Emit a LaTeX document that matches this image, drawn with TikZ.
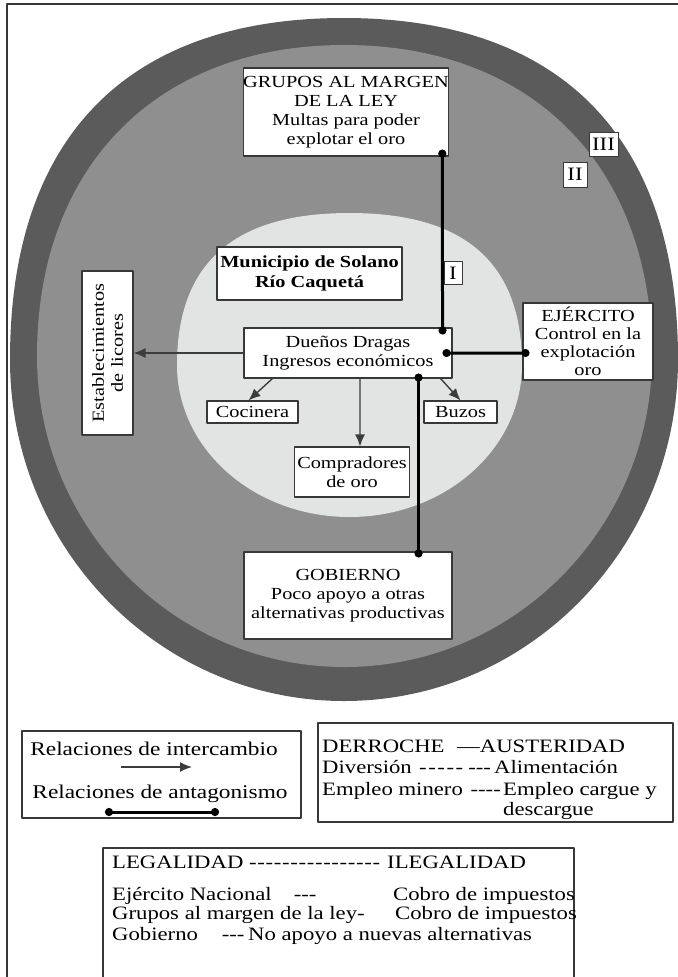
\documentclass[tikz,border=0pt]{standalone}
\usepackage{fontspec}
\setmainfont[FakeStretch=1.2]{Liberation Serif}
\usetikzlibrary{arrows.meta}
\definecolor{ringdark}{HTML}{5B5B5B}
\definecolor{ringmid}{HTML}{8F8F8F}
\definecolor{ringlight}{HTML}{E2E3E3}
\definecolor{boxline}{HTML}{383838}
\definecolor{arrowgray}{HTML}{3C3C3C}
% n hyphens spread over a given width
\newcommand\guiones[2]{\makebox[#2]{-\foreach \k in {2,...,#1}{\hfill-}}}
\begin{document}
\begin{tikzpicture}[x=1bp,y=-1bp,>={Latex[length=12bp,width=10bp]},line join=bevel,
  box/.style={draw=boxline,fill=white,line width=1.1bp,inner sep=0pt,align=center,
    font=\fontsize{17}{19}\selectfont},
  numbox/.style={draw=boxline,fill=white,line width=1bp,inner sep=0pt,
    font=\fontsize{19}{19}\selectfont},
  swap/.style={->,draw=arrowgray,line width=1.4bp},
  antag/.style={{Circle[length=8bp]}-{Circle[length=8bp]},line width=3bp,black},
  legtext/.style={anchor=base west,inner sep=0pt,font=\fontsize{19}{21}\selectfont},
  legbox/.style={draw=boxline,line width=1.1bp}]
\useasboundingbox (0,0) rectangle (678,977);
%%
\draw[boxline,line width=1.5bp] (7,977) -- (7,4) -- (678,4);
% Ring III
\fill[ringdark] (10,359.5) .. controls (10,137.5) and (126.9,18) .. (344,18)
  .. controls (561.1,18) and (678,137.5) .. (678,359.5)
  .. controls (678,548.1) and (528.5,701) .. (344,701)
  .. controls (159.5,701) and (10,548.1) .. (10,359.5) -- cycle;
% Ring II
\fill[ringmid] (37,356) .. controls (37,166.3) and (156.9,45) .. (344.5,45)
  .. controls (532.1,45) and (652,166.3) .. (652,356)
  .. controls (652,527.8) and (514.3,667) .. (344.5,667)
  .. controls (174.7,667) and (37,527.8) .. (37,356) -- cycle;
% Ring I
\fill[ringlight] (177,365) .. controls (177,262) and (235,213) .. (349.5,213)
  .. controls (464,213) and (522,262) .. (522,365)
  .. controls (522,449) and (444.8,517) .. (349.5,517)
  .. controls (254.2,517) and (177,449) .. (177,365) -- cycle;
% Node: Grupos
\node[box,minimum width=204bp,minimum height=88bp] (grupos) at (346,112)
  {GRUPOS AL MARGEN\\DE LA LEY\\Multas para poder\\explotar el oro};
% Node: Municipio
\node[box,line width=1.4bp,minimum width=185bp,minimum height=53bp,
  font=\fontsize{17}{20}\selectfont\bfseries] (municipio) at (309.5,273.5)
  {Municipio de Solano\\Río Caquetá};
% Node: Duenos
\node[box,minimum width=208bp,minimum height=50bp] (duenos) at (348,353)
  {Dueños Dragas\\Ingresos económicos};
% Node: Cocinera
\node[box,minimum width=91bp,minimum height=22bp] (cocinera) at (252.5,412) {Cocinera};
% Node: Buzos
\node[box,minimum width=73bp,minimum height=22bp] (buzos) at (460.5,412) {Buzos};
% Node: Compradores
\node[box,minimum width=115bp,minimum height=50bp] (compradores) at (352,472)
  {Compradores\\de oro};
% Node: Ejercito
\node[box,minimum width=130bp,minimum height=77bp,font=\fontsize{17}{18}\selectfont]
  (ejercito) at (588,341.5) {EJÉRCITO\\Control en la\\explotación\\oro};
% Node: Licores
\node[box,rotate=90,minimum width=164bp,minimum height=51bp] (licores) at (107.5,353)
  {Establecimientos\\de licores};
% Node: Gobierno
\node[box,minimum width=208bp,minimum height=87bp] (gobierno) at (348,595.5)
  {GOBIERNO\\Poco apoyo a otras\\alternativas productivas};
% Node: zone labels
\node[numbox,minimum width=18bp,minimum height=23bp] (zonaI) at (453,273) {I};
\node[numbox,minimum width=24bp,minimum height=25bp] (zonaII) at (575,174.5) {II};
\node[numbox,minimum width=29bp,minimum height=24bp] (zonaIII) at (603.5,144) {III};
%
% Edge: Duenos -> Licores
\draw[swap] (duenos.west) -- (duenos.west -| licores.south);
% Edge: Duenos -> Cocinera
\draw[swap] ([xshift=29bp]duenos.south west) -- ([xshift=-4bp]cocinera.north);
% Edge: Duenos -> Buzos
\draw[swap] ([xshift=-12bp]duenos.south east) -- (buzos.north);
% Edge: Duenos -> Compradores
\draw[swap] ([xshift=12bp]duenos.south) -- ([xshift=8bp]compradores.north);
% Edge: Grupos -- Duenos
\draw[antag] ([shift={(-7,-7)}]grupos.south east) -- ([shift={(-10,7)}]duenos.north east);
% Edge: Duenos -- Ejercito
\draw[antag] ([shift={(-10,0)}]duenos.east) -- ([shift={(7,11.5)}]ejercito.west);
% Edge: Duenos -- Gobierno
\draw[antag] ([shift={(-34,-5)}]duenos.south east) -- ([shift={(-34,6)}]gobierno.north east);
%
% Legend: relaciones
\draw[legbox] (22,731) rectangle (301,818);
\node[legtext,anchor=base,font=\fontsize{19.5}{21}\selectfont] (intercambio) at (154,755)
  {Relaciones de intercambio};
\coordinate (xa) at (121,767);
\coordinate (xb) at (192,767);
\draw[swap] (xa) -- (xb);
\node[legtext,anchor=base,font=\fontsize{19.5}{21}\selectfont] (antagonismo) at (160,798)
  {Relaciones de antagonismo};
\coordinate (ya) at (105,812);
\coordinate (yb) at (219,812);
\draw[antag] (ya) -- (yb);
% Legend: derroche
\draw[legbox] (318,723) rectangle (673,822);
\node[legtext] (derroche) at (322,752) {DERROCHE};
\node[legtext] (austeridad) at (457,752) {—AUSTERIDAD};
\node[legtext] (diversion) at (322,773) {Diversión};
\node[legtext] (divguion) at (419,773) {\guiones{5}{44bp}\hspace{9bp}\guiones{3}{15bp}};
\node[legtext] (alimentacion) at (494,773) {Alimentación};
\node[legtext] (minero) at (322,795) {Empleo minero};
\node[legtext] (mineroguion) at (472,795) {\guiones{4}{27bp}};
\node[legtext] (cargue) at (503,795) {Empleo cargue y};
\node[legtext] (descargue) at (503,815) {descargue};
% Legend: legalidad
\draw[legbox] (574,985) -- (574,848) -- (103,848) -- (103,985);
\node[legtext] (legalidad) at (112,868) {LEGALIDAD};
\node[legtext] (legguion) at (249,868) {\guiones{16}{131bp}};
\node[legtext] (ilegalidad) at (387,868) {ILEGALIDAD};
\node[legtext] (ejnacional) at (112,900) {Ejército Nacional};
\node[legtext] (ejguion) at (295,900) {\guiones{3}{20bp}};
\node[legtext] (cobroA) at (393,900) {Cobro de impuestos};
\node[legtext] (gmargen) at (112,919) {Grupos al margen de la ley-};
\node[legtext] (cobroB) at (395,919) {Cobro de impuestos};
\node[legtext] (gobiernoL) at (112,940) {Gobierno};
\node[legtext] (gobguion) at (223,940) {\guiones{3}{20bp}};
\node[legtext] (noapoyo) at (248,940) {No apoyo a nuevas alternativas};
%
\end{tikzpicture}
\end{document}
